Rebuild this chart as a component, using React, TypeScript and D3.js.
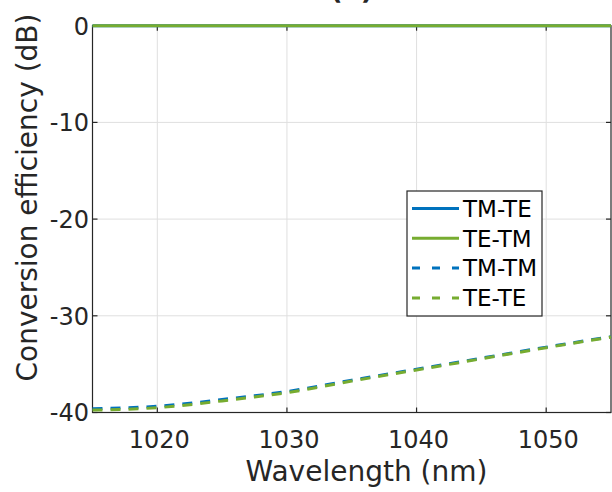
import React from "react";
import * as d3 from "d3";

const wavelengths = [1015, 1017.5, 1020, 1022.5, 1025, 1027.5, 1030, 1035, 1040, 1045, 1050, 1055];
const tmTe = [0, 0, 0, 0, 0, 0, 0, 0, 0, 0, 0, 0];
const teTm = [0, 0, 0, 0, 0, 0, 0, 0, 0, 0, 0, 0];
const tmTm = [-39.6, -39.52, -39.35, -39.05, -38.66, -38.27, -37.83, -36.65, -35.52, -34.38, -33.24, -32.15];
const teTe = [-39.75, -39.68, -39.5, -39.2, -38.8, -38.4, -37.95, -36.75, -35.6, -34.45, -33.3, -32.2];
const xTicks = [1020, 1030, 1040, 1050];
const yTicks = [0, -10, -20, -30, -40];
const seriesNames = ["TM-TE", "TE-TM", "TM-TM", "TE-TE"];

const BLUE = "#0072BD";
const GREEN = "#77AC30";
const AX = "#262626";
const FONT = "'DejaVu Sans', Verdana, sans-serif";

export default function App() {
  const left = 92.5, right = 611, top = 25.7, bottom = 412.5;
  const x = d3.scaleLinear().domain([1015, 1055]).range([left, right]);
  const y = d3.scaleLinear().domain([-40, 0]).range([bottom, top]);
  const line = d3
    .line<number>()
    .x((_, i) => x(wavelengths[i]))
    .y((d) => y(d))
    .curve(d3.curveMonotoneX);

  const series = [
    { name: seriesNames[0], data: tmTe, color: BLUE, dash: "" },
    { name: seriesNames[1], data: teTm, color: GREEN, dash: "" },
    { name: seriesNames[2], data: tmTm, color: BLUE, dash: "10,8" },
    { name: seriesNames[3], data: teTe, color: GREEN, dash: "10,8" },
  ];

  const tickLen = 5;
  const legX = 407, legY = 191, legW = 135, legH = 125;

  return (
    <svg
      width={612}
      height={492}
      style={{ position: "absolute", left: 0, top: 0, background: "#fff" }}
      fontFamily={FONT}
    >
      <rect x={0} y={0} width={612} height={492} fill="#fff" />
      {/* grid */}
      {xTicks.map((t) => (
        <line key={"gx" + t} x1={x(t)} x2={x(t)} y1={top} y2={bottom} stroke="#dfdfdf" strokeWidth={1} />
      ))}
      {yTicks.map((t) => (
        <line key={"gy" + t} x1={left} x2={right} y1={y(t)} y2={y(t)} stroke="#dfdfdf" strokeWidth={1} />
      ))}
      {/* axes box */}
      <rect x={left} y={top} width={right - left} height={bottom - top} fill="none" stroke={AX} strokeWidth={1.2} />
      {/* ticks */}
      {xTicks.map((t) => (
        <g key={"tx" + t}>
          <line x1={x(t)} x2={x(t)} y1={bottom} y2={bottom - tickLen} stroke={AX} strokeWidth={1.2} />
          <line x1={x(t)} x2={x(t)} y1={top} y2={top + tickLen} stroke={AX} strokeWidth={1.2} />
          <text x={x(t) + 2} y={448} textAnchor="middle" fontSize={24} fill={AX}>
            {t}
          </text>
        </g>
      ))}
      {yTicks.map((t) => (
        <g key={"ty" + t}>
          <line x1={left} x2={left + tickLen} y1={y(t)} y2={y(t)} stroke={AX} strokeWidth={1.2} />
          <line x1={right} x2={right - tickLen} y1={y(t)} y2={y(t)} stroke={AX} strokeWidth={1.2} />
          <text x={89} y={y(t) + (t === 0 ? 9.5 : 8.7)} textAnchor="end" fontSize={24} fill={AX}>
            {t === 0 ? "0" : "-" + Math.abs(t)}
          </text>
        </g>
      ))}
      {/* data */}
      {series.map((s) => (
        <path
          key={s.name}
          d={line(s.data) || ""}
          fill="none"
          stroke={s.color}
          strokeWidth={3}
          strokeDasharray={s.dash || undefined}
        />
      ))}
      {/* labels */}
      <text x={366.5} y={481} textAnchor="middle" fontSize={28} fill={AX}>
        Wavelength (nm)
      </text>
      <text
        transform={`translate(36.5,197.5) rotate(-90)`}
        textAnchor="middle"
        fontSize={28}
        fill={AX}
      >
        Conversion efficiency (dB)
      </text>
      <text x={(left + right) / 2} y={-1.5} textAnchor="middle" fontSize={27} fontWeight="bold" fill={AX}>
        (a)
      </text>
      {/* legend */}
      <rect x={legX} y={legY} width={legW} height={legH} fill="#fff" stroke={AX} strokeWidth={1.2} />
      {series.map((s, i) => {
        const cy = 208.5 + i * 29.8;
        return (
          <g key={"lg" + s.name}>
            <line
              x1={412}
              x2={459}
              y1={cy}
              y2={cy}
              stroke={s.color}
              strokeWidth={3}
              strokeDasharray={s.dash ? "8,12" : undefined}
            />
            <text x={463} y={cy + 8.2} fontSize={23} fill="#000">
              {s.name}
            </text>
          </g>
        );
      })}
    </svg>
  );
}
